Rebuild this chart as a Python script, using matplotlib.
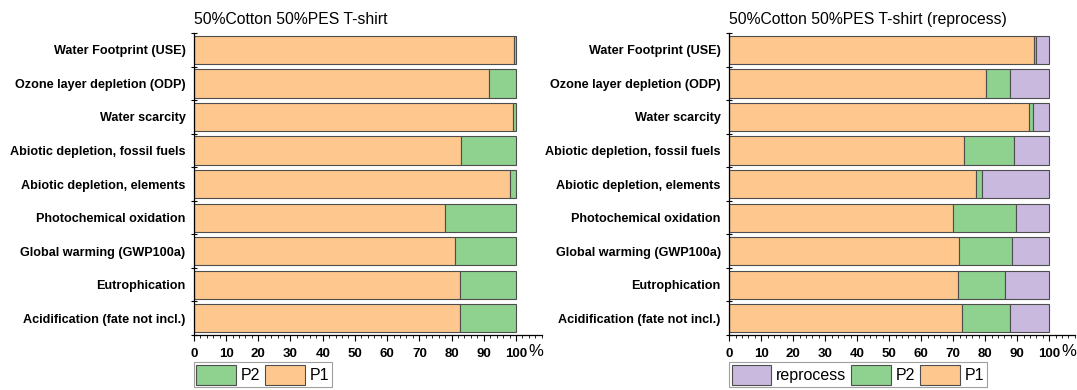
import matplotlib

matplotlib.use('Agg')
import matplotlib.pyplot as plt
from matplotlib.ticker import MultipleLocator, FixedLocator
import numpy as np

plt.rcParams['font.family'] = ['Liberation Sans', 'DejaVu Sans']

# Impact categories, top to bottom
categories = [
    'Water Footprint (USE)',
    'Ozone layer depletion (ODP)',
    'Water scarcity',
    'Abiotic depletion, fossil fuels',
    'Abiotic depletion, elements',
    'Photochemical oxidation',
    'Global warming (GWP100a)',
    'Eutrophication',
    'Acidification (fate not incl.)',
]

# Share of each phase, percent
base_p1 = [99.3, 91.5, 99.2, 82.8, 98.0, 78.0, 81.0, 82.5, 82.7]
base_p2 = [0.7, 8.5, 0.8, 17.2, 2.0, 22.0, 19.0, 17.5, 17.3]

rep_p1 = [95.3, 80.1, 93.8, 73.5, 77.1, 69.8, 71.8, 71.5, 72.6]
rep_p2 = [0.7, 7.6, 1.0, 15.6, 1.8, 19.8, 16.6, 14.8, 15.2]
rep_reprocess = [4.0, 12.3, 5.2, 10.9, 21.1, 10.4, 11.6, 13.7, 12.2]

titles = ['50%Cotton 50%PES T-shirt', '50%Cotton 50%PES T-shirt (reprocess)']

C_P1 = '#fdc78e'
C_P2 = '#8fd18f'
C_REP = '#c9b9df'
EDGE = '#4d4d4d'

fig = plt.figure(figsize=(10.77, 3.9), dpi=100)
ax_l = fig.add_axes([0.180, 0.141, 0.323, 0.774])
ax_r = fig.add_axes([0.677, 0.141, 0.321, 0.774])

y = np.arange(len(categories))


def stacked(ax, series):
    left = np.zeros(len(categories))
    handles = []
    for vals, color, name in series:
        h = ax.barh(y, vals, left=left, height=0.84, color=color,
                    edgecolor=EDGE, linewidth=0.8, label=name)
        left += np.array(vals)
        handles.append(h)
    return handles


def style(ax, title):
    ax.set_ylim(len(categories) - 0.5, -0.5)
    ax.set_xlim(0, 108)
    ax.set_yticks(y)
    ax.set_yticklabels(categories, fontsize=9.1, fontweight='bold')
    ax.yaxis.set_minor_locator(FixedLocator(np.arange(-0.5, len(categories), 1)))
    ax.tick_params(axis='y', which='major', length=0, pad=6)
    ax.tick_params(axis='y', which='minor', length=4, direction='inout', width=0.8)
    ax.set_xticks(np.arange(0, 101, 10))
    ax.set_xticklabels([str(v) for v in range(0, 101, 10)],
                       fontsize=9.5, fontweight='bold')
    ax.xaxis.set_minor_locator(MultipleLocator(2))
    ax.tick_params(axis='x', which='major', length=4, width=0.8, pad=5)
    ax.tick_params(axis='x', which='minor', length=2, width=0.6)
    for s in ('top', 'right'):
        ax.spines[s].set_visible(False)
    ax.spines['left'].set_linewidth(0.9)
    ax.spines['bottom'].set_linewidth(0.9)
    ax.text(0, 1.02, title, transform=ax.transAxes, fontsize=11.3,
            ha='left', va='bottom')
    ax.text(103.7, -0.031, '%', transform=ax.get_xaxis_transform(),
            fontsize=12, ha='left', va='top')


h_l = stacked(ax_l, [(base_p1, C_P1, 'P1'), (base_p2, C_P2, 'P2')])
style(ax_l, titles[0])
h_r = stacked(ax_r, [(rep_p1, C_P1, 'P1'), (rep_p2, C_P2, 'P2'),
                     (rep_reprocess, C_REP, 'reprocess')])
style(ax_r, titles[1])

leg_kw = dict(loc='upper left', frameon=True, fancybox=False, fontsize=11.5,
              handlelength=2.5, handleheight=1.6, handletextpad=0.3,
              columnspacing=0.3, borderpad=0.15, borderaxespad=0,
              edgecolor='#888888')
leg = ax_l.legend(h_l[::-1], ['P2', 'P1'], ncol=2,
                  bbox_to_anchor=(0.0, -0.09), **leg_kw)
leg.get_frame().set_linewidth(0.8)
leg = ax_r.legend(h_r[::-1], ['reprocess', 'P2', 'P1'], ncol=3,
                  bbox_to_anchor=(0.0, -0.09), **leg_kw)
leg.get_frame().set_linewidth(0.8)

fig.savefig('out.png', dpi=100)
